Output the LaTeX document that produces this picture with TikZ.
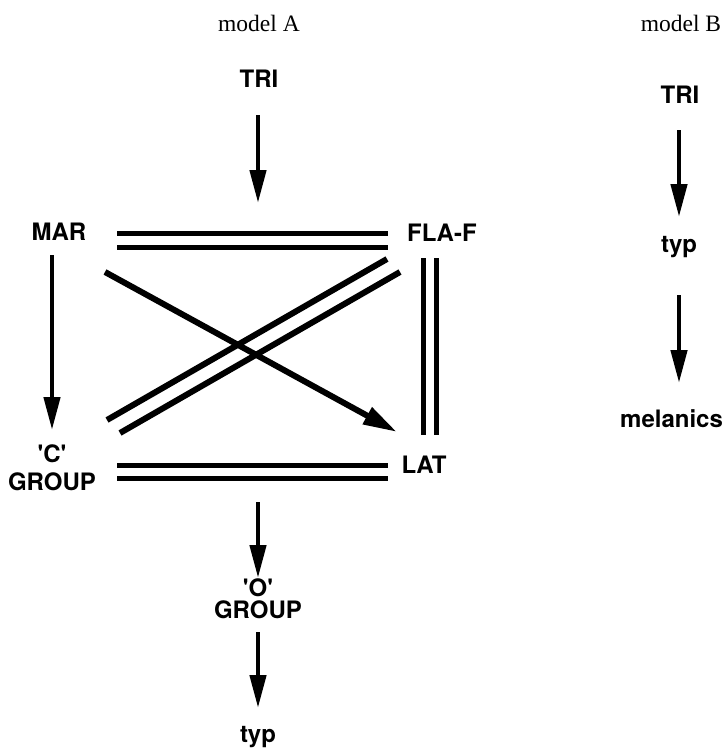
\documentclass[tikz,border=0pt]{standalone}
\usepackage{fontspec}
\setmainfont{Liberation Serif}
\newfontfamily\labfont{TeX Gyre Heros}
\usetikzlibrary{arrows.meta}
\begin{document}
\begin{tikzpicture}[x=1bp,y=-1bp,
  lab/.style={font=\labfont\bfseries\fontsize{24bp}{26bp}\selectfont, inner sep=0pt, anchor=base},
  ttl/.style={font=\fontsize{23.5bp}{26bp}\selectfont, inner sep=0pt, anchor=base},
  arr/.style={line width=4.5bp, -{Triangle[length=33bp,width=16bp]}},
  dbl/.style={line width=5bp},
  diag/.style={line width=6bp},
  diagarr/.style={line width=6bp, -{Triangle[length=34bp,width=18bp]}}]
\useasboundingbox (0,0) rectangle (726,751);
% titles
\node[ttl] (mA) at (259,32) {model A};
\node[ttl] (mB) at (681,32) {model B};
% model A labels
\node[lab] (triA) at (259,87) {TRI};
\node[lab] (mar) at (59,240) {MAR};
\node[lab] (fla) at (442,241) {FLA-F};
\node[lab] (cq) at (52,462) {\textquotesingle C\textquotesingle};
\node[lab] (cg) at (52,490) {GROUP};
\node[lab] (lat) at (424,473) {LAT};
\node[lab] (oq) at (258,596) {\textquotesingle O\textquotesingle};
\node[lab] (og) at (258,618) {GROUP};
\node[lab] (typA) at (258,742) {typ};
% model B labels
\node[lab] (triB) at (680,103) {TRI};
\node[lab] (typB) at (679,252) {typ};
\node[lab, anchor=base west] (mel) at (620,427) {melanics};
% connector end points
\coordinate (a1s) at (258,115); \coordinate (a1e) at (258,203);
\coordinate (t1s) at (117,233); \coordinate (t1e) at (388,233);
\coordinate (t2s) at (117,247); \coordinate (t2e) at (388,247);
\coordinate (v1s) at (423,258); \coordinate (v1e) at (423,435);
\coordinate (v2s) at (436,258); \coordinate (v2e) at (436,435);
\coordinate (m1s) at (52,255); \coordinate (m1e) at (52,430);
\coordinate (xs) at (105,272); \coordinate (xe) at (397,432);
\coordinate (d1s) at (387,259); \coordinate (d1e) at (107,420);
\coordinate (d2s) at (400,272); \coordinate (d2e) at (120,433);
\coordinate (b1s) at (117,465); \coordinate (b1e) at (388,465);
\coordinate (b2s) at (117,478); \coordinate (b2e) at (388,478);
\coordinate (a2s) at (258,502); \coordinate (a2e) at (258,578);
\coordinate (a3s) at (258,632); \coordinate (a3e) at (258,708);
\coordinate (bb1s) at (679,130); \coordinate (bb1e) at (679,217);
\coordinate (bb2s) at (679,295); \coordinate (bb2e) at (679,383);
% model A connectors
\draw[arr] (a1s) -- (a1e);
\draw[dbl] (t1s) -- (t1e);
\draw[dbl] (t2s) -- (t2e);
\draw[dbl] (v1s) -- (v1e);
\draw[dbl] (v2s) -- (v2e);
\draw[arr] (m1s) -- (m1e);
\draw[diag] (d1s) -- (d1e);
\draw[diag] (d2s) -- (d2e);
\draw[diagarr] (xs) -- (xe);
\draw[dbl] (b1s) -- (b1e);
\draw[dbl] (b2s) -- (b2e);
\draw[arr] (a2s) -- (a2e);
\draw[arr] (a3s) -- (a3e);
% model B connectors
\draw[arr] (bb1s) -- (bb1e);
\draw[arr] (bb2s) -- (bb2e);
\end{tikzpicture}
\end{document}
